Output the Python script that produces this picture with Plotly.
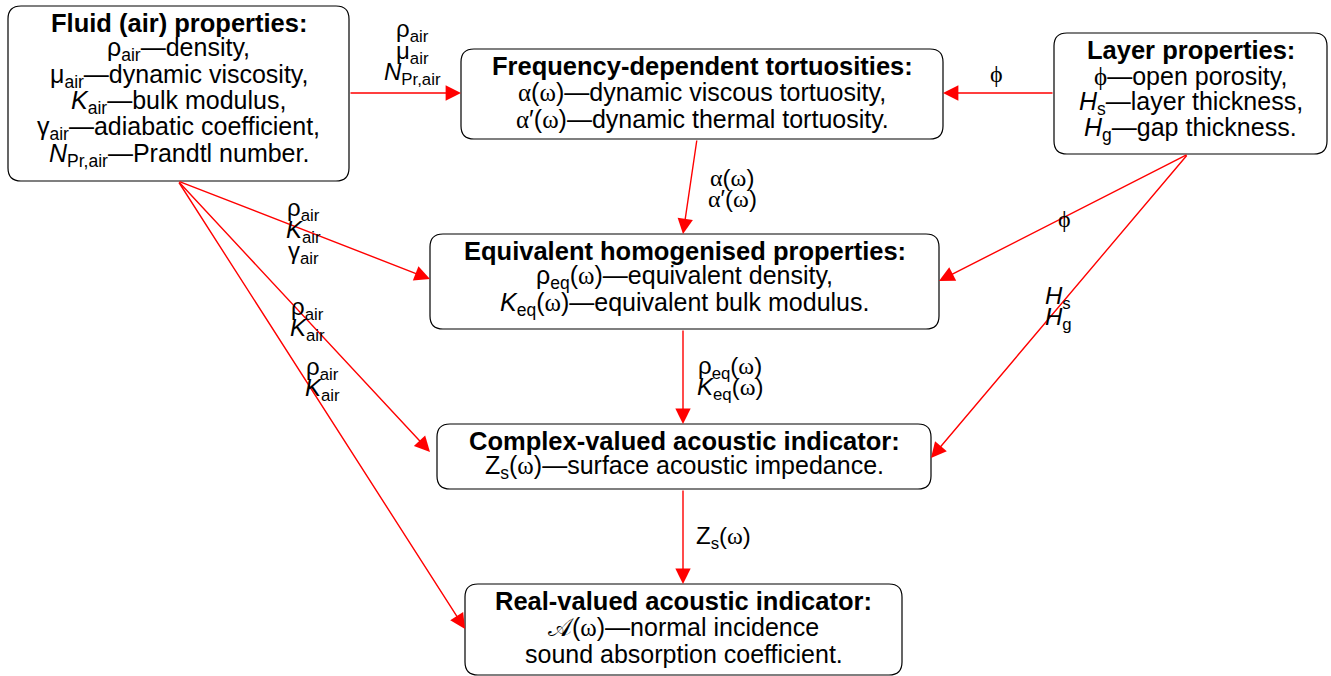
import plotly.graph_objects as go

# ---- diagram content ----
node_titles = [
    "Fluid (air) properties:",
    "Frequency-dependent tortuosities:",
    "Layer properties:",
    "Equivalent homogenised properties:",
    "Complex-valued acoustic indicator:",
    "Real-valued acoustic indicator:",
]

SER = '<span style="font-family:Liberation Serif">%s</span>'
AL = SER % "α"
OM = SER % "ω"
PHI = SER % "ϕ"

node_lines = [
    ["ρ<sub>air</sub>—density,",
     "μ<sub>air</sub>—dynamic viscosity,",
     "<i>K</i><sub>air</sub>—bulk modulus,",
     "γ<sub>air</sub>—adiabatic coefficient,",
     "<i>N</i><sub>Pr,air</sub>—Prandtl number."],
    [f"{AL}({OM})—dynamic viscous tortuosity,",
     f"{AL}′({OM})—dynamic thermal tortuosity."],
    [f"{PHI}—open porosity,",
     "<i>H</i><sub>s</sub>—layer thickness,",
     "<i>H</i><sub>g</sub>—gap thickness."],
    [f"ρ<sub>eq</sub>({OM})—equivalent density,",
     f"<i>K</i><sub>eq</sub>({OM})—equivalent bulk modulus."],
    [f"Z<sub>s</sub>({OM})—surface acoustic impedance."],
    [f"𝒜({OM})—normal incidence",
     "sound absorption coefficient."],
]

edge_labels = [
    ["ρ<sub>air</sub>", "μ<sub>air</sub>", "<i>N</i><sub>Pr,air</sub>"],
    [PHI],
    [f"{AL}({OM})", f"{AL}′({OM})"],
    ["ρ<sub>air</sub>", "<i>K</i><sub>air</sub>", "γ<sub>air</sub>"],
    [PHI],
    [f"ρ<sub>eq</sub>({OM})", f"<i>K</i><sub>eq</sub>({OM})"],
    ["ρ<sub>air</sub>", "<i>K</i><sub>air</sub>"],
    ["<i>H</i><sub>s</sub>", "<i>H</i><sub>g</sub>"],
    ["ρ<sub>air</sub>", "<i>K</i><sub>air</sub>"],
    [f"Z<sub>s</sub>({OM})"],
]

# ---- layout (pixel coordinates, y downward) ----
W, H = 1331, 676
boxes = [
    (8, 6, 349, 181),
    (461, 49, 943, 139),
    (1054, 33, 1327, 154),
    (430, 234, 939, 329),
    (437, 424, 931, 489),
    (465, 584, 902, 675),
]
# (x_start, y_start, x_end, y_end, label_x, label_y)
edges = [
    (349, 93, 461, 93, 412, 52),
    (1054, 93, 943, 93, 996, 74),
    (697, 139, 683, 234, 732, 188),
    (178, 181, 430, 279, 303, 231),
    (1188, 154, 939, 281, 1064, 219),
    (683, 329, 683, 424, 730, 378),
    (178, 181, 430, 452, 307, 319),
    (1188, 154, 931, 458, 1058, 308),
    (178, 181, 465, 629, 322, 379),
    (683, 489, 683, 584, 723, 537),
]

FONT = "Liberation Sans, Arial, sans-serif"
FS_TITLE = 25.5
FS = 25
LS = 26.3
FS_LAB = 24
LS_LAB = 21.5
RED = "#ff0000"

fig = go.Figure()
fig.add_trace(go.Scatter(x=[0, W], y=[0, H], mode="markers", marker=dict(opacity=0), hoverinfo="skip"))


def rounded(x0, y0, x1, y1, r=13):
    return (f"M{x0 + r},{y0} L{x1 - r},{y0} Q{x1},{y0} {x1},{y0 + r} "
            f"L{x1},{y1 - r} Q{x1},{y1} {x1 - r},{y1} L{x0 + r},{y1} "
            f"Q{x0},{y1} {x0},{y1 - r} L{x0},{y0 + r} Q{x0},{y0} {x0 + r},{y0} Z")


# arrows first (under labels)
for x0, y0, x1, y1, lx, ly in edges:
    fig.add_annotation(x=x1, y=y1, ax=x0, ay=y0, xref="x", yref="y", axref="x", ayref="y",
                       text="", showarrow=True, arrowhead=2, arrowsize=2.2, arrowwidth=1.4,
                       arrowcolor=RED, standoff=0)

for (x0, y0, x1, y1), title, lines in zip(boxes, node_titles, node_lines):
    fig.add_shape(type="path", path=rounded(x0, y0, x1, y1), xref="x", yref="y",
                  line=dict(color="black", width=1.2), fillcolor="white", layer="below")
    cx = (x0 + x1) / 2
    fig.add_annotation(x=cx, y=y0 + 17, text=f"<b>{title}</b>", showarrow=False,
                       font=dict(family=FONT, size=FS_TITLE, color="black"))
    for i, ln in enumerate(lines):
        fig.add_annotation(x=cx, y=y0 + 17 + LS * (i + 1), text=ln, showarrow=False,
                           font=dict(family=FONT, size=FS, color="black"))

for (x0, y0, x1, y1, lx, ly), lab in zip(edges, edge_labels):
    n = len(lab)
    for i, ln in enumerate(lab):
        fig.add_annotation(x=lx, y=ly + LS_LAB * (i - (n - 1) / 2), text=ln, showarrow=False,
                           font=dict(family=FONT, size=FS_LAB, color="black"))

fig.update_xaxes(range=[0, W], visible=False, fixedrange=True)
fig.update_yaxes(range=[H, 0], visible=False, fixedrange=True)
fig.update_layout(width=W, height=H, margin=dict(l=0, r=0, t=0, b=0),
                  plot_bgcolor="white", paper_bgcolor="white", showlegend=False)

fig.write_html("out.html", config={"displayModeBar": False},
               post_script="document.body.style.margin='0px';")
